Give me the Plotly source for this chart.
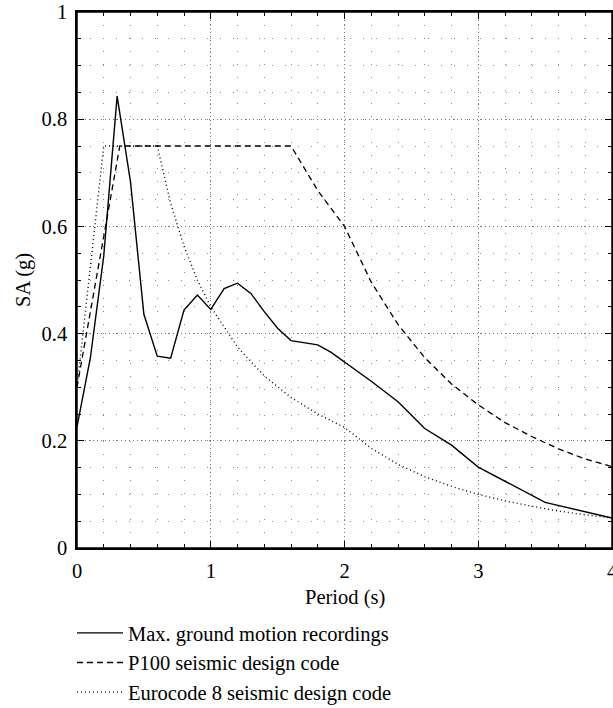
import plotly.graph_objects as go

# ---- data ----
rec_x = [0.0, 0.1, 0.2, 0.3, 0.4, 0.5, 0.6, 0.7, 0.8, 0.9, 1.0, 1.1, 1.2, 1.3, 1.4, 1.5, 1.6,
         1.8, 1.9, 2.0, 2.2, 2.4, 2.6, 2.8, 3.0, 3.5, 4.0]
rec_y = [0.226, 0.355, 0.545, 0.843, 0.683, 0.436, 0.358, 0.354, 0.444, 0.472, 0.445, 0.484,
         0.494, 0.475, 0.441, 0.41, 0.387, 0.379, 0.365, 0.347, 0.311, 0.273, 0.223, 0.192,
         0.151, 0.085, 0.056]

p100_x = [0.0, 0.32, 1.6, 1.8, 2.0, 2.2, 2.4, 2.6, 2.8, 3.0, 3.2, 3.4, 3.6, 3.8, 4.0]
p100_y = [0.30, 0.75, 0.75, 0.667, 0.60, 0.496, 0.417, 0.355, 0.306, 0.267, 0.234, 0.208,
          0.185, 0.166, 0.152]

ec8_x = [0.0, 0.2, 0.6, 0.7, 0.8, 0.9, 1.0, 1.2, 1.4, 1.6, 1.8, 2.0, 2.2, 2.4, 2.6, 2.8, 3.0,
         3.2, 3.4, 3.6, 3.8, 4.0]
ec8_y = [0.30, 0.75, 0.75, 0.643, 0.563, 0.50, 0.45, 0.375, 0.321, 0.281, 0.25, 0.225, 0.186,
         0.156, 0.133, 0.115, 0.10, 0.088, 0.078, 0.069, 0.062, 0.056]

names = ["Max. ground motion recordings", "P100 seismic design code",
         "Eurocode 8 seismic design code"]

x_ticks = [0, 1, 2, 3, 4]
x_labels = ["0", "1", "2", "3", "4"]
y_ticks = [0, 0.2, 0.4, 0.6, 0.8, 1.0]
y_labels = ["0", "0.2", "0.4", "0.6", "0.8", "1"]

FONT = "Liberation Serif"
FS = 20.5

fig = go.Figure()
fig.add_trace(go.Scatter(x=rec_x, y=rec_y, mode="lines", name=names[0],
                         line=dict(color="black", width=1.4)))
fig.add_trace(go.Scatter(x=p100_x, y=p100_y, mode="lines", name=names[1],
                         line=dict(color="black", width=1.3, dash="6px,4px")))
fig.add_trace(go.Scatter(x=ec8_x, y=ec8_y, mode="lines", name=names[2],
                         line=dict(color="black", width=1.4, dash="1px,3px")))

axis_common = dict(
    showline=True, linecolor="black", linewidth=1.5, mirror="ticks",
    ticks="inside", ticklen=7, tickwidth=1.2, tickcolor="black",
    showgrid=True, gridcolor="#777777", gridwidth=1, griddash="1px,3px",
    zeroline=False, tickfont=dict(family=FONT, size=FS, color="black"),
    ticklabeloverflow="allow",
)

fig.update_xaxes(
    range=[0, 4], tickvals=x_ticks, ticktext=x_labels,
    minor=dict(dtick=0.2, ticks="inside", ticklen=4, tickcolor="black", tickwidth=1,
               showgrid=True, gridcolor="#888888", gridwidth=1, griddash="1px,12px"),
    ticklabelstandoff=4,
    **axis_common,
)
fig.update_yaxes(
    range=[0, 1], tickvals=y_ticks, ticktext=y_labels,
    minor=dict(dtick=0.05, ticks="inside", ticklen=4, tickcolor="black", tickwidth=1,
               showgrid=True, gridcolor="#888888", gridwidth=1, griddash="1px,12px"),
    ticklabelstandoff=4,
    **axis_common,
)

fig.add_shape(type="rect", xref="paper", yref="paper", x0=0, y0=0, x1=1, y1=1,
              line=dict(color="black", width=1.5), fillcolor="rgba(0,0,0,0)", layer="above")

# axis titles
fig.add_annotation(text="Period (s)", xref="paper", yref="paper", x=0.5, y=0,
                   yshift=-49, showarrow=False, yanchor="middle",
                   font=dict(family=FONT, size=FS, color="black"))
fig.add_annotation(text="SA (g)", xref="paper", yref="paper", x=0, y=0.5,
                   xshift=-54, showarrow=False, textangle=-90, xanchor="center",
                   font=dict(family=FONT, size=FS, color="black"))

fig.update_layout(
    width=613, height=708,
    margin=dict(l=77, r=1, t=12, b=160, autoexpand=False),
    paper_bgcolor="white", plot_bgcolor="white",
    font=dict(family=FONT, size=FS, color="black"),
    showlegend=True,
    legend=dict(xref="container", yref="container", x=72 / 613, y=1 - 613 / 708,
                xanchor="left", yanchor="top", orientation="v",
                font=dict(family=FONT, size=FS, color="black"),
                itemwidth=46, tracegroupgap=0, bgcolor="rgba(0,0,0,0)", borderwidth=0),
)

fig.write_html("out.html")
